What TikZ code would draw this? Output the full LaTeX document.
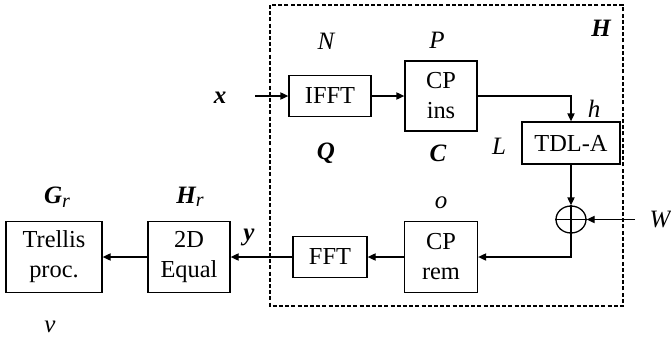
\documentclass[tikz,border=0pt]{standalone}
\usepackage{fontspec}
\setmainfont{Liberation Serif}
\usepackage{tikz}
\usetikzlibrary{arrows.meta,positioning,shapes.geometric,calc}

\tikzset{
  blockbox/.style={draw,line width=0.65pt,inner sep=0pt,align=center,
    font=\fontsize{12.2}{15}\selectfont},
  lbl/.style={inner sep=0pt,font=\fontsize{12.5}{14}\selectfont\itshape},
  boldlbl/.style={inner sep=0pt,font=\fontsize{12.5}{14}\selectfont\bfseries\itshape},
  flow/.style={line width=0.65pt,-{Triangle[length=4pt,width=3.6pt]}}
}

\begin{document}
\begin{tikzpicture}[x=0.5pt,y=-0.5pt]
      \useasboundingbox (0,0) rectangle (671,343);
      % channel box
      \draw[line width=0.65pt,dash pattern=on 2pt off 1.1pt] (270,5) rectangle (623,306);
      \node[boldlbl] (Hlab) at (601,28) {H};
      % transmitter side
      \node[blockbox,minimum width=41pt,minimum height=20.5pt] (ifft) at (330,96) {IFFT};
      \node[blockbox,minimum width=36pt,minimum height=35pt] (cpins) at (441,96) {CP\\ins};
      \node[blockbox,minimum width=49pt,minimum height=21pt] (tdl) at (571,143) {TDL-A};
      \node[draw,ellipse,line width=0.65pt,inner sep=0pt,minimum width=15pt,minimum height=13.5pt] (sum) at (571,219.5) {};
      \draw[line width=0.65pt] (sum.north) -- (sum.south) (sum.west) -- (sum.east);
      % receiver side
      \node[blockbox,minimum width=36.5pt,minimum height=35.5pt] (cprem) at (441,257) {CP\\rem};
      \node[blockbox,minimum width=37pt,minimum height=20.5pt] (fft) at (330,257) {FFT};
      \node[blockbox,minimum width=41pt,minimum height=35.5pt] (equal) at (189,257) {2D\\Equal};
      \node[blockbox,minimum width=48pt,minimum height=35.5pt] (trellis) at (54,257) {Trellis\\proc.};
      % labels
      \node[boldlbl] (xlab) at (220,98) {x};
      \node[lbl] (Nlab) at (326,41) {N};
      \node[boldlbl] (Qlab) at (326,153) {Q};
      \node[lbl] (Plab) at (437,40) {P};
      \node[boldlbl] (Clab) at (438,153) {C};
      \node[lbl] (hlab) at (594,109) {h};
      \node[lbl] (Llab) at (499,146) {L};
      \node[lbl] (Wlab) at (660,220) {W};
      \node[lbl] (olab) at (441,203) {o};
      \node[boldlbl] (ylab) at (249,237) {y};
      \node[lbl] (Hrlab) at (190,197) {\textbf{H}\raisebox{-0.3ex}{\fontsize{10}{10}\selectfont r}};
      \node[lbl] (Grlab) at (57,197) {\textbf{G}\raisebox{-0.3ex}{\fontsize{10}{10}\selectfont r}};
      \node[lbl] (nulab) at (50,327) {ν};
      % connectors
      \coordinate (xin) at (255,96);
      \coordinate (win) at (635,219.5);
      \draw[flow] (xin) -- (ifft);
      \draw[flow] (ifft) -- (cpins);
      \draw[flow] (cpins.east) -| (tdl.north);
      \draw[flow] (tdl.south) -- (sum.north);
      \draw[flow] (win) -- (sum.east);
      \draw[flow] (sum.south) |- (cprem.east);
      \draw[flow] (cprem) -- (fft);
      \draw[flow] (fft) -- (equal);
      \draw[flow] (equal) -- (trellis);
    \end{tikzpicture}
\end{document}
